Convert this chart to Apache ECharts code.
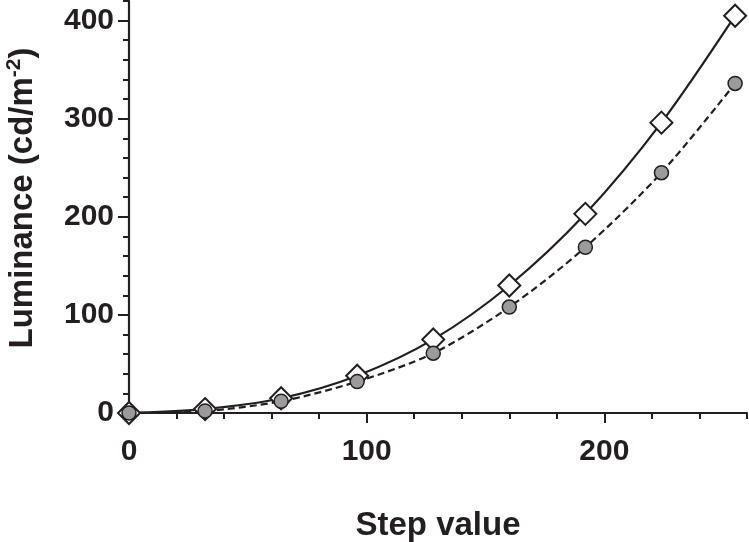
<!DOCTYPE html>
<html>
<head>
    <meta charset="utf-8">
    <title>Luminance</title>
    <script src="https://cdn.jsdelivr.net/npm/echarts@6/dist/echarts.min.js"></script>
    <style>
        *{margin: 0;padding: 0;}
    </style>
</head>
<body>
    <div id="main" style="width: 749px;height:542px;"></div>
    <script type="text/javascript">
        // step values and the two measured luminance curves
        var steps = [0, 32, 64, 96, 128, 160, 192, 224, 255];
        var lumDiamond = [0, 4, 15, 38, 75, 130, 203, 296, 405];
        var lumCircle = [0, 2, 12, 32, 61, 108, 169, 245, 336];
        var xMajor = [0, 100, 200];
        var yMajor = [0, 100, 200, 300, 400];

        var ink = '#231f20';
        var font = '"Liberation Sans", Arial, sans-serif';

        function pairs(ys) {
            return steps.map(function (x, i) { return [x, ys[i]]; });
        }

        var myChart = echarts.init(document.getElementById('main'));

        var option = {
            animation: false,
            backgroundColor: '#fff',
            grid: {left: 129, right: 2, top: 1, bottom: 129, outerBoundsMode: 'none', containLabel: false},
            xAxis: [{
                type: 'value', min: 0, max: 260, interval: 20, position: 'bottom',
                splitLine: {show: false},
                axisLine: {lineStyle: {color: ink, width: 2.2}},
                axisTick: {length: 6, lineStyle: {color: ink, width: 2}},
                axisLabel: {
                    customValues: xMajor, margin: 24,
                    color: ink, fontSize: 30, fontWeight: 'bold', fontFamily: font
                },
                name: 'Step value', nameLocation: 'middle', nameGap: 96,
                nameTextStyle: {color: ink, fontSize: 33, fontWeight: 'bold', fontFamily: font}
            }, {
                type: 'value', min: 0, max: 260, position: 'bottom',
                splitLine: {show: false},
                axisLine: {show: false},
                axisTick: {customValues: xMajor, length: 10, lineStyle: {color: ink, width: 2}},
                axisLabel: {show: false}
            }],
            yAxis: [{
                type: 'value', min: 0, max: 420, interval: 20, position: 'left',
                splitLine: {show: false},
                axisLine: {show: true, lineStyle: {color: ink, width: 2.2}},
                axisTick: {show: true, length: 6, lineStyle: {color: ink, width: 2}},
                axisLabel: {
                    customValues: yMajor, margin: 15,
                    color: ink, fontSize: 30, fontWeight: 'bold', fontFamily: font
                },
                name: 'Luminance (cd/m{sup|-2})', nameLocation: 'middle', nameGap: 88,
                nameTextStyle: {
                    color: ink, fontSize: 33, fontWeight: 'bold', fontFamily: font,
                    padding: [0, 0, 0, 18],
                    rich: {sup: {fontSize: 21, fontWeight: 'bold', fontFamily: font, color: ink, padding: [0, 0, 16, 0]}}
                }
            }, {
                type: 'value', min: 0, max: 420, position: 'left',
                splitLine: {show: false},
                axisLine: {show: false},
                axisTick: {show: true, customValues: yMajor, length: 11, lineStyle: {color: ink, width: 2}},
                axisLabel: {show: false}
            }],
            series: [{
                type: 'line', data: pairs(lumDiamond),
                smooth: 0.3,
                symbol: 'diamond', symbolSize: 22,
                lineStyle: {color: ink, width: 2.2},
                itemStyle: {color: '#fff', borderColor: ink, borderWidth: 2}
            }, {
                type: 'line', data: pairs(lumCircle),
                smooth: 0.3,
                symbol: 'circle', symbolSize: 14,
                lineStyle: {color: ink, width: 2.2, type: [7, 4]},
                itemStyle: {color: '#9b9b9b', borderColor: ink, borderWidth: 1.5}
            }]
        };

        myChart.setOption(option);
    </script>
</body>
</html>
